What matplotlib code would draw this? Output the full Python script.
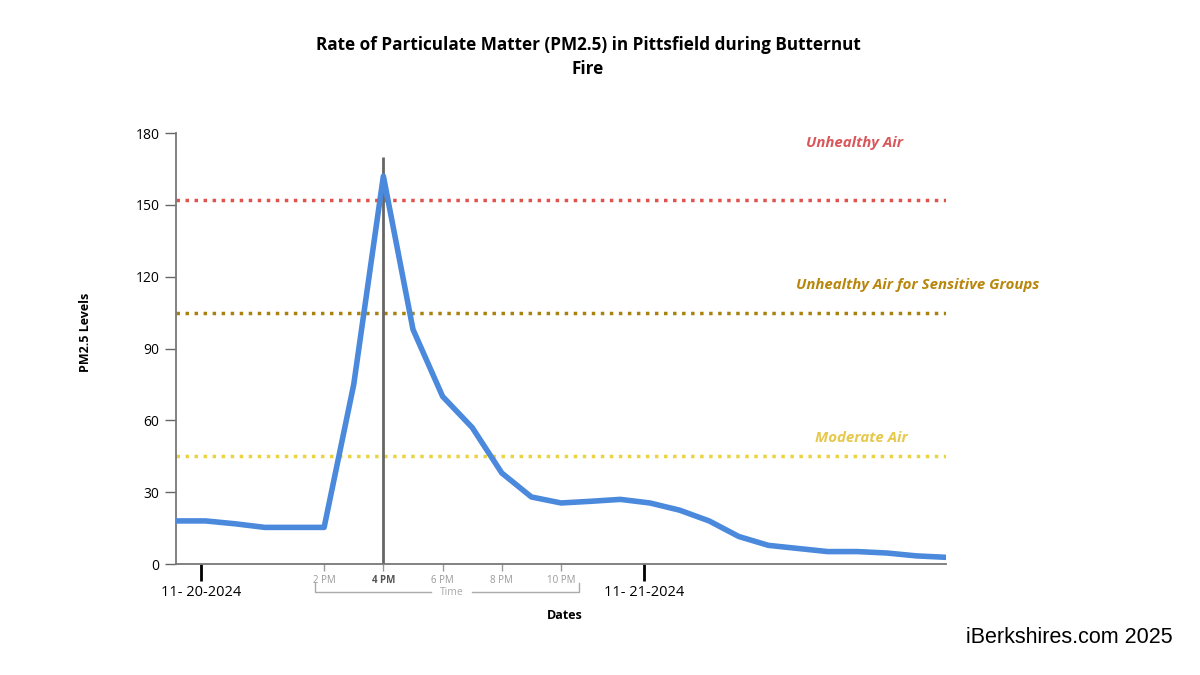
import matplotlib.pyplot as plt
import matplotlib.transforms as mtransforms

plt.rcParams['font.family'] = ['Open Sans', 'DejaVu Sans']

# hours counted from midnight of 11-20-2024
hours = [9, 10, 11, 12, 13, 14, 15, 16, 17, 18, 19, 20, 21, 22, 23, 24, 25, 26, 27, 28, 29, 30, 31, 32, 33, 34, 35]
pm25 = [18, 18, 16.8, 15.3, 15.3, 15.3, 75, 162, 98, 70, 57, 38, 28, 25.5, 26.2, 27, 25.5, 22.5, 18, 11.5, 7.8, 6.5, 5.2, 5.2, 4.6, 3.4, 2.8]

thresholds = [152, 105, 45]
threshold_names = ["Unhealthy Air", "Unhealthy Air for Sensitive Groups", "Moderate Air"]
threshold_colors = ['#e0524c', '#a8820c', '#ead33f']
label_colors = ['#d9575b', '#b8860b', '#e6c84a']

date_pos = [9.85, 24.8]
date_labels = ["11- 20-2024", "11- 21-2024"]
time_pos = [14, 16, 18, 20, 22]
time_labels = ["2 PM", "4 PM", "6 PM", "8 PM", "10 PM"]

fig = plt.figure(figsize=(12, 6.75), dpi=100)
ax = fig.add_axes([0.1467, 0.1644, 0.6417, 0.6385])

for val, col in zip(thresholds, threshold_colors):
    ax.axhline(val, color=col, lw=2.5, ls=(0, (1, 1.6)), zorder=1)

ax.plot(hours, pm25, color='#4a89dc', lw=4, solid_joinstyle='round', zorder=3)
ax.vlines(16, 0, 170, color='#666666', lw=2, zorder=2)

ax.set_xlim(9, 35)
ax.set_ylim(0, 180)
ax.set_yticks(range(0, 181, 30))
ax.tick_params(axis='y', length=8, width=1, color='#666666', labelsize=10, pad=4)
for s in ['top', 'right']:
    ax.spines[s].set_visible(False)
for s in ['left', 'bottom']:
    ax.spines[s].set_color('#777777')
    ax.spines[s].set_linewidth(1.3)

ax.set_xticks(date_pos)
ax.set_xticklabels(date_labels, fontsize=10.5)
ax.tick_params(axis='x', length=12, width=2, color='black', pad=3)

sec = ax.secondary_xaxis('bottom')
sec.set_xticks(time_pos)
sec.set_xticklabels(time_labels, fontsize=7, color='#999999')
sec.tick_params(length=5, width=1, color='#999999', pad=3)
sec.spines['bottom'].set_visible(False)
for t in sec.get_xticklabels():
    if t.get_text() == "4 PM":
        t.set_fontweight('bold')
        t.set_color('#555555')

# "Time" bracket under the hour ticks
tr = mtransforms.blended_transform_factory(ax.transData, ax.transAxes)
ax.plot([13.7, 13.7, 17.6], [-0.044, -0.065, -0.065], color='#aaaaaa', lw=1, transform=tr, clip_on=False)
ax.plot([19.0, 22.6, 22.6], [-0.065, -0.065, -0.044], color='#aaaaaa', lw=1, transform=tr, clip_on=False)
ax.text(18.3, -0.065, "Time", transform=tr, ha='center', va='center', fontsize=7.5, color='#aaaaaa')

lab_tr = mtransforms.blended_transform_factory(ax.transAxes, ax.transData)
for name, col, yv, xf in zip(threshold_names, label_colors, [176, 116.5, 52.5], [0.881, 0.963, 0.89]):
    ax.text(xf, yv, name, transform=lab_tr, ha='center', va='center',
            fontsize=10.8, fontweight='bold', style='italic', color=col)

ax.set_xlabel("Dates", fontsize=9, fontweight='bold')
ax.set_ylabel("PM2.5 Levels", fontsize=9, fontweight='bold')
ax.xaxis.set_label_coords(0.505, -0.105)
ax.yaxis.set_label_coords(-0.109, 0.538)

fig.suptitle("Rate of Particulate Matter (PM2.5) in Pittsfield during Butternut\nFire",
             x=0.49, y=0.946, fontsize=12.3, fontweight='bold', linespacing=1.4)
fig.text(0.977, 0.055, "iBerkshires.com 2025", ha='right', va='center', fontsize=15.5,
         family='Liberation Sans')

fig.savefig("out.png", dpi=100)
